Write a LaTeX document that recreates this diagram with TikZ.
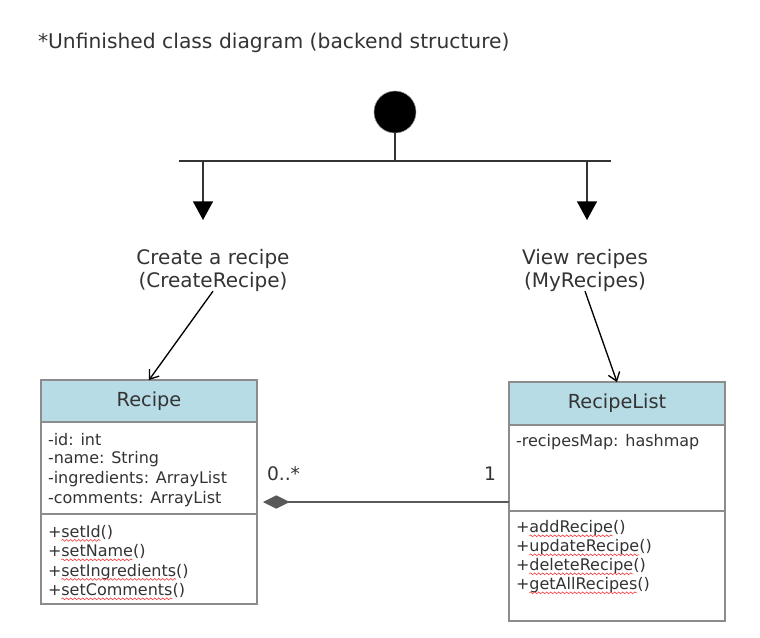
\documentclass[tikz,border=0pt]{standalone}
\usepackage{fontspec}
\setmainfont{DejaVu Sans}
\usetikzlibrary{arrows.meta,positioning,decorations.pathmorphing}
\definecolor{ink}{HTML}{333333}
\definecolor{hdr}{HTML}{B7DCE6}
\definecolor{frame}{HTML}{8C8C8C}
\definecolor{typored}{HTML}{F04848}
\begin{document}
\begin{tikzpicture}[x=0.75pt,y=-0.75pt,
    every node/.style={text=ink,inner sep=0pt,outer sep=0pt},
    wire/.style={draw=ink,line width=1.1pt},
    head/.style={draw=frame,fill=hdr,line width=0.9pt,minimum width=162pt,font=\fontsize{14.5}{17}\selectfont},
    part/.style={draw=frame,line width=0.9pt,minimum width=162pt},
    member/.style={anchor=west,font=\fontsize{12}{14}\selectfont},
    piece/.style={anchor=base west,font=\fontsize{12}{14}\selectfont},
    typo/.style={draw=typored,line width=0.5pt,decorate,decoration={snake,amplitude=0.7pt,segment length=3pt}},
    usecase/.style={draw=black,line width=1pt,-{Straight Barb[length=6pt,width=9pt]}},
    lbl/.style={align=center,font=\fontsize{15}{17.25}\selectfont},
    mult/.style={font=\fontsize{14}{16}\selectfont}]
  \useasboundingbox (0,0) rectangle (760,637);
  \node[anchor=west,font=\fontsize{15.2}{18}\selectfont] (title) at (38,43) {*Unfinished class diagram (backend structure)};
  \node[circle,fill=black,draw=frame,minimum size=31.5pt] (start) at (395,112) {};
  \coordinate (barL) at (179,161);
  \coordinate (barR) at (611,161);
  \coordinate (tipC) at (203,220);
  \coordinate (tipV) at (587,220);
  \draw[wire] (barL) -- (barR);
  \draw[wire] (start) -- (start |- barL);
  \foreach \t in {tipC,tipV}
    \draw[wire,-{Triangle[length=14pt,width=15pt,black]}] (\t |- barL) -- (\t);
  \node[lbl] (create) at (213,270) {Create a recipe\\(CreateRecipe)};
  \node[lbl] (view) at (585,270) {View recipes\\(MyRecipes)};

  \node[head,minimum height=31.5pt,anchor=north west] (recipe) at (41,380) {Recipe};
  \node[part,minimum height=69pt,below=0pt of recipe] (recipeAttr) {};
  \node[part,minimum height=67.5pt,below=0pt of recipeAttr] (recipeOps) {};
  \foreach \t [count=\i] in {-id: int,-name: String,-ingredients: ArrayList,-comments: ArrayList}
    \node[member] (rAttr\i) at ([shift={(7,{17.5+19.8*(\i-1)})}]recipeAttr.north west) {\t};
  \foreach \m [count=\i] in {setId,setName,setIngredients,setComments} {
    \node[piece] (rOp\i) at ([shift={(7,{23+19.5*(\i-1)})}]recipeOps.north west) {+};
    \node[piece] (rName\i) at (rOp\i.base east) {\m};
    \node[piece] (rEnd\i) at (rName\i.base east) {()};
    \draw[typo] ([yshift=-2.5pt]rName\i.base west) -- ([yshift=-2.5pt]rName\i.base east);
  }

  \node[head,minimum height=32.25pt,anchor=north west] (list) at (509,382) {RecipeList};
  \node[part,minimum height=64.5pt,below=0pt of list] (listAttr) {};
  \node[part,minimum height=82.5pt,below=0pt of listAttr] (listOps) {};
  \node[member] (lAttr) at ([shift={(7,17)}]listAttr.north west) {-recipesMap: hashmap};
  \foreach \m [count=\i] in {addRecipe,updateRecipe,deleteRecipe,getAllRecipes} {
    \node[piece] (lOp\i) at ([shift={(7,{21.5+19*(\i-1)})}]listOps.north west) {+};
    \node[piece] (lName\i) at (lOp\i.base east) {\m};
    \node[piece] (lEnd\i) at (lName\i.base east) {()};
    \draw[typo] ([yshift=-2.5pt]lName\i.base west) -- ([yshift=-2.5pt]lName\i.base east);
  }

  \draw[usecase] (create.south) -- (recipe.north);
  \draw[usecase] (view.south) -- (list.north);
  \coordinate (whole) at (263,502);
  \draw[draw=black!65,line width=0.8pt,-{Diamond[length=20pt,width=10pt,fill=black!65]}] (listAttr.west |- whole) -- (whole);
  \node[mult,anchor=west] (many) at (267,474) {0..*};
  \node[mult] (one) at (490,474) {1};
\end{tikzpicture}
\end{document}
